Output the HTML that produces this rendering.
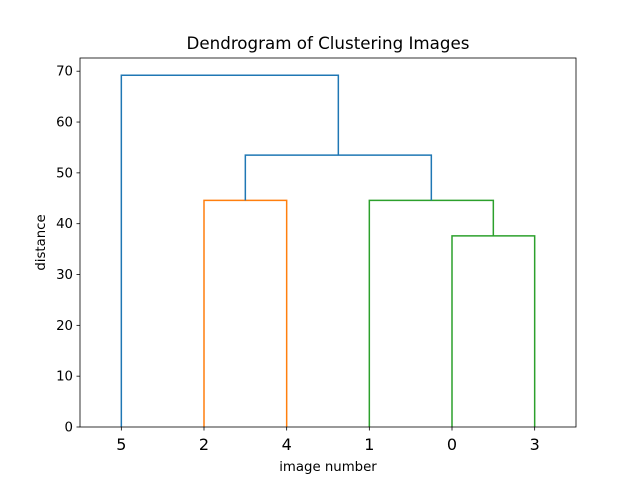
<!DOCTYPE html>
<html><head><meta charset="utf-8"><style>
html,body{margin:0;padding:0;background:#fff;}
svg text{font-family:"DejaVu Sans","Liberation Sans",sans-serif;fill:#000;}
</style></head><body>
<svg id="chart" width="640" height="480" xmlns="http://www.w3.org/2000/svg"></svg>
<script>
// data
const leafLabels = ["5","2","4","1","0","3"];
// merges: [leftNode, rightNode, height]; nodes 0-5 are leaves (by position), 6+ are merges
const mergeLeft = [4, 1, 3, 7, 0];
const mergeRight = [5, 2, 6, 8, 9];
const mergeHeights = [37.6, 44.6, 44.6, 53.5, 69.2];
const mergeColors = ["#2ca02c", "#ff7f0e", "#2ca02c", "#1f77b4", "#1f77b4"];
const yTicks = [0,10,20,30,40,50,60,70];

const L=80,R=576,T=58,B=427, xMax=leafLabels.length*10, yMax=72.6;
const sx=v=>L+(v/xMax)*(R-L);
const sy=v=>B-(v/yMax)*(B-T);
const NS="http://www.w3.org/2000/svg";
const svg=document.getElementById('chart');
function mk(tag,attrs){const e=document.createElementNS(NS,tag);for(const k in attrs)e.setAttribute(k,attrs[k]);svg.appendChild(e);return e;}

const nx=[],ny=[];
leafLabels.forEach((l,i)=>{nx.push(5+10*i);ny.push(0);});
mergeHeights.forEach((h,i)=>{
  const a=mergeLeft[i],b=mergeRight[i];
  const p=mk('polyline',{points:`${sx(nx[a])},${sy(ny[a])} ${sx(nx[a])},${sy(h)} ${sx(nx[b])},${sy(h)} ${sx(nx[b])},${sy(ny[b])}`,fill:'none',stroke:mergeColors[i],'stroke-width':1.5});
  
  
  nx.push((nx[a]+nx[b])/2);ny.push(h);
});

const fr=mk('rect',{x:L,y:T,width:R-L,height:B-T,fill:'none',stroke:'#000','stroke-width':0.8});



yTicks.forEach(v=>{
  const t=mk('line',{x1:L-3.5,x2:L,y1:sy(v),y2:sy(v),stroke:'#000','stroke-width':0.8});
  
  
  const tx=mk('text',{x:L-7,y:sy(v)+4.5,'text-anchor':'end','font-size':'13.3'});
  tx.textContent=v;
  
  
});
leafLabels.forEach((l,i)=>{
  const x=sx(5+10*i);
  const t=mk('line',{x1:x,x2:x,y1:B,y2:B+3.5,stroke:'#000','stroke-width':0.8});
  
  
  const tx=mk('text',{x:x,y:B+23,'text-anchor':'middle','font-size':'16'});
  tx.textContent=l;
  
  
});
const title=mk('text',{x:(L+R)/2,y:T-9,'text-anchor':'middle','font-size':'16.7'});
title.textContent='Dendrogram of Clustering Images';


const xl=mk('text',{x:(L+R)/2,y:471,'text-anchor':'middle','font-size':'13.3'});
xl.textContent='image number';


const yl=mk('text',{x:0,y:0,'text-anchor':'middle','font-size':'13.3',transform:`translate(45,${(T+B)/2}) rotate(-90)`});
yl.textContent='distance';


</script>
</body></html>
